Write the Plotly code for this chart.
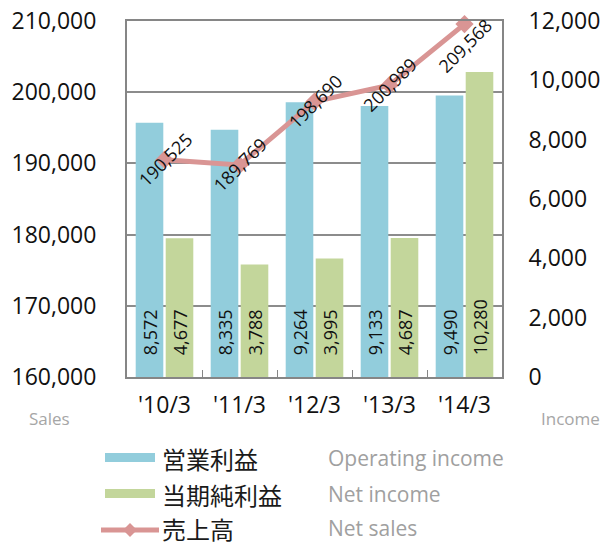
import plotly.graph_objects as go

# ---------------- data ----------------
categories = ["'10/3", "'11/3", "'12/3", "'13/3", "'14/3"]
operating_income = [8572, 8335, 9264, 9133, 9490]
net_income = [4677, 3788, 3995, 4687, 10280]
net_sales = [190525, 189769, 198690, 200989, 209568]

sales_ticks = [160000, 170000, 180000, 190000, 200000, 210000]
income_ticks = [0, 2000, 4000, 6000, 8000, 10000, 12000]

legend_jp = ["営業利益", "当期純利益", "売上高"]
legend_en = ["Operating income", "Net income", "Net sales"]

# ---------------- style ----------------
W, H = 613, 544
ML, MR, MT, MB = 127, 111, 21, 167
PW, PH = W - ML - MR, H - MT - MB
BLUE = "#92CDDC"
GREEN = "#C3D69B"
PINK = "#D99594"
AXIS = "#868686"
FONT = "Open Sans"
JP = "Noto Sans CJK JP"


def px(x):
    return (x - ML) / PW


def py(y):
    return (MT + PH - y) / PH


NBSP = "\u00a0"

fig = go.Figure()

fig.add_trace(go.Bar(
    x=categories, y=operating_income, name=legend_jp[0], yaxis="y",
    marker=dict(color=BLUE, line=dict(width=0)),
    text=[NBSP * 4 + f"{v:,}" for v in operating_income],
    textposition="inside", insidetextanchor="start", textangle=-90,
    constraintext="none",
    textfont=dict(family=FONT, size=18, color="#111111"),
    showlegend=False,
))
fig.add_trace(go.Bar(
    x=categories, y=net_income, name=legend_jp[1], yaxis="y",
    marker=dict(color=GREEN, line=dict(width=0)),
    text=[NBSP * 4 + f"{v:,}" for v in net_income],
    textposition="inside", insidetextanchor="start", textangle=-90,
    constraintext="none",
    textfont=dict(family=FONT, size=18, color="#111111"),
    showlegend=False,
))
fig.add_trace(go.Scatter(
    x=categories, y=net_sales, name=legend_jp[2], yaxis="y2",
    mode="lines+markers",
    line=dict(color=PINK, width=5),
    marker=dict(symbol="diamond", size=14, color=PINK),
    cliponaxis=False, showlegend=False,
))

# rotated labels of the net sales line
for i, (c, v) in enumerate(zip(categories, net_sales)):
    fig.add_annotation(
        x=c, y=v, xref="x", yref="y2", text=f"{v:,}", showarrow=False,
        textangle=-45, xanchor="center", yanchor="middle",
        yshift=-22 if i == len(net_sales) - 1 else 0,
        font=dict(family=FONT, size=18, color="#111111"),
    )

# axis captions
fig.add_annotation(x=px(49), y=py(418), xref="paper", yref="paper", text="Sales",
                   showarrow=False, xanchor="center", yanchor="middle",
                   font=dict(family=FONT, size=17, color="#A6A6A6"))
fig.add_annotation(x=px(570), y=py(418), xref="paper", yref="paper", text="Income",
                   showarrow=False, xanchor="center", yanchor="middle",
                   font=dict(family=FONT, size=17, color="#A6A6A6"))

# custom legend
rows = [458, 494, 528]
for i, yy in enumerate(rows[:2]):
    fig.add_shape(type="rect", xref="paper", yref="paper",
                  x0=px(105), x1=px(155), y0=py(yy - 5), y1=py(yy + 4),
                  fillcolor=[BLUE, GREEN][i], line=dict(width=0))
ly = rows[2] + 2
fig.add_shape(type="line", xref="paper", yref="paper",
              x0=px(101), x1=px(159), y0=py(ly), y1=py(ly),
              line=dict(color=PINK, width=5))
d = 7
fig.add_shape(type="path", xref="paper", yref="paper",
              path=(f"M {px(130 - d)} {py(ly)} L {px(130)} {py(ly - d)} "
                    f"L {px(130 + d)} {py(ly)} L {px(130)} {py(ly + d)} Z"),
              fillcolor=PINK, line=dict(width=0))
for i, yy in enumerate(rows):
    fig.add_annotation(x=px(160), y=py(yy), xref="paper", yref="paper",
                       text=legend_jp[i], showarrow=False, height=28,
                       xanchor="left", yanchor="middle",
                       font=dict(family=JP, size=24, color="#1a1a1a"))
    fig.add_annotation(x=px(326), y=py(yy), xref="paper", yref="paper",
                       text=legend_en[i], showarrow=False, height=28,
                       xanchor="left", yanchor="middle",
                       font=dict(family=FONT, size=21, color="#A0A0A0"))

fig.update_layout(
    width=W, height=H,
    margin=dict(l=ML, r=MR, t=MT, b=MB, pad=0, autoexpand=False),
    paper_bgcolor="white", plot_bgcolor="white",
    barmode="group", bargap=0.2, bargroupgap=0.08,
    showlegend=False,
    font=dict(family=FONT, color="#111111"),
    xaxis=dict(
        type="category", categoryorder="array", categoryarray=categories,
        showline=True, linecolor=AXIS, linewidth=2, mirror=True,
        ticks="inside", tickson="boundaries", ticklen=7, tickcolor=AXIS,
        tickfont=dict(family=FONT, size=23, color="#111111"),
        ticklabelstandoff=6, showgrid=False, automargin=False,
    ),
    yaxis=dict(
        range=[0, 12000], side="right", tickvals=income_ticks,
        tickformat=",d", showgrid=False, zeroline=False,
        showline=True, linecolor=AXIS, linewidth=2,
        tickfont=dict(family=FONT, size=23, color="#111111"),
        ticklabelstandoff=20, automargin=False,
    ),
    yaxis2=dict(
        range=[160000, 210000], side="left", overlaying="y",
        tickvals=sales_ticks, tickformat=",d",
        showgrid=True, gridcolor="#8C8C8C", gridwidth=1.5, zeroline=False,
        showline=True, linecolor=AXIS, linewidth=2,
        tickfont=dict(family=FONT, size=23, color="#111111"),
        ticklabelstandoff=24, automargin=False,
    ),
)

fig.write_html(
    "out.html",
    config={"displayModeBar": False},
    post_script="document.body.style.margin='0';document.body.style.padding='0';",
)
